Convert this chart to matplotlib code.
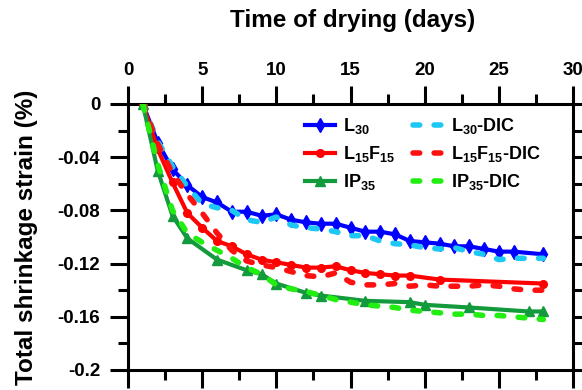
import matplotlib
matplotlib.use("Agg")
import matplotlib.pyplot as plt
from matplotlib.ticker import MultipleLocator

plt.rcParams['font.family'] = ['Liberation Sans', 'DejaVu Sans']
plt.rcParams['font.weight'] = 'bold'
plt.rcParams['mathtext.fontset'] = 'custom'
plt.rcParams['mathtext.rm'] = 'Liberation Sans:bold'
plt.rcParams['mathtext.it'] = 'Liberation Sans:bold'
plt.rcParams['mathtext.bf'] = 'Liberation Sans:bold'
plt.rcParams['mathtext.default'] = 'rm'

# ---- data ----
l30_days = [1, 2, 3, 4, 5, 6, 7, 8, 9, 10, 11, 12, 13, 14, 15, 16, 17, 18, 19, 20, 21, 22, 23, 24, 25, 26, 28]
l30_vals = [0, -0.029, -0.049, -0.061, -0.070, -0.074, -0.081, -0.081, -0.084, -0.083, -0.087, -0.089,
            -0.090, -0.090, -0.093, -0.096, -0.096, -0.098, -0.103, -0.104, -0.105, -0.107, -0.107,
            -0.109, -0.111, -0.111, -0.113]

l15_days = [1, 2, 3, 4, 5, 6, 7, 8, 9, 10, 11, 12, 13, 14, 15, 16, 17, 18, 19, 21, 28]
l15_vals = [0, -0.034, -0.059, -0.082, -0.093, -0.103, -0.107, -0.113, -0.117, -0.119, -0.121, -0.123,
            -0.123, -0.122, -0.125, -0.127, -0.128, -0.129, -0.129, -0.132, -0.135]

ip35_days = [1, 2, 3, 4, 6, 8, 9, 10, 12, 13, 16, 19, 20, 23, 27, 28]
ip35_vals = [0, -0.050, -0.084, -0.101, -0.117, -0.125, -0.128, -0.135, -0.142, -0.144, -0.148,
             -0.149, -0.151, -0.153, -0.156, -0.156]

dic_days = list(range(1, 29))
l30_dic = [0, -0.028, -0.047, -0.062, -0.075, -0.078, -0.080, -0.087, -0.089, -0.085, -0.091, -0.093,
           -0.094, -0.096, -0.099, -0.099, -0.103, -0.105, -0.106, -0.108, -0.109, -0.108, -0.111,
           -0.113, -0.117, -0.116, -0.116, -0.116]
l15_dic = [0, -0.030, -0.052, -0.068, -0.082, -0.097, -0.110, -0.118, -0.121, -0.123, -0.126, -0.129,
           -0.130, -0.127, -0.134, -0.136, -0.136, -0.135, -0.137, -0.136, -0.137, -0.137, -0.137,
           -0.136, -0.137, -0.139, -0.140, -0.140]
ip35_dic = [0, -0.045, -0.080, -0.097, -0.104, -0.110, -0.116, -0.123, -0.128, -0.136, -0.139, -0.141,
            -0.144, -0.147, -0.149, -0.151, -0.152, -0.153, -0.155, -0.156, -0.157, -0.158, -0.158,
            -0.159, -0.159, -0.160, -0.161, -0.162]

ytick_vals = [0, -0.04, -0.08, -0.12, -0.16, -0.2]
ytick_labels = ['0', '-0.04', '-0.08', '-0.12', '-0.16', '-0.2']
xtick_vals = [0, 5, 10, 15, 20, 25, 30]

# ---- figure ----
W, H = 582, 390
fig = plt.figure(figsize=(W/100, H/100), dpi=100)
x0, x1, ytop, ybot = 128, 573, 104, 370
ax = fig.add_axes([x0/W, 1-ybot/H, (x1-x0)/W, (ybot-ytop)/H])

lw = 3.0
h1, = ax.plot(l30_days, l30_vals, color='#0000FF', lw=lw, marker='d', ms=7, label=r'L$_{30}$', zorder=3)
h2, = ax.plot(l15_days, l15_vals, color='#FF0000', lw=lw, marker='o', ms=5.5, label=r'L$_{15}$F$_{15}$', zorder=3)
h3, = ax.plot(ip35_days, ip35_vals, color='#129A3C', lw=lw, marker='^', ms=7, label=r'IP$_{35}$', zorder=3)

dash = (0, (1.2, 2.6))
h4, = ax.plot(dic_days, l30_dic, color='#1EC8F5', lw=4, ls=dash, dash_capstyle='round', label=r'L$_{30}$-DIC', zorder=4)
h5, = ax.plot(dic_days, l15_dic, color='#FF1010', lw=4, ls=dash, dash_capstyle='round', label=r'L$_{15}$F$_{15}$-DIC', zorder=4)
h6, = ax.plot(dic_days, ip35_dic, color='#22EE11', lw=4, ls=dash, dash_capstyle='round', label=r'IP$_{35}$-DIC', zorder=4)

ax.set_xlim(0, 30)
ax.set_ylim(-0.2, 0)
ax.xaxis.tick_top()
ax.xaxis.set_label_position('top')
ax.set_xticks(xtick_vals)
ax.xaxis.set_minor_locator(MultipleLocator(2.5))
ax.set_yticks(ytick_vals)
ax.set_yticklabels(ytick_labels)
ax.yaxis.set_minor_locator(MultipleLocator(0.02))

ax.tick_params(axis='both', which='major', direction='out', length=13, width=2.2, labelsize=13.5)
ax.tick_params(axis='y', which='major', pad=7)
ax.tick_params(axis='x', which='major', pad=5)
ax.tick_params(axis='both', which='minor', direction='out', length=7, width=2.2)
ax.tick_params(axis='x', which='both', top=True, bottom=True, labeltop=True, labelbottom=False)
ax.tick_params(axis='y', which='both', left=True, right=True, labelleft=True, labelright=False)
for lab in ax.get_xticklabels() + ax.get_yticklabels():
    lab.set_fontweight('bold')
for sp in ax.spines.values():
    sp.set_linewidth(2.2)

ax.set_xlabel('Time of drying (days)', fontsize=17.5, fontweight='bold')
ax.xaxis.set_label_coords(0.505, 1.0 + (ytop-21)/(ybot-ytop))
ax.xaxis.label.set_va('center')
ax.set_ylabel('Total shrinkage strain (%)', fontsize=17.5, fontweight='bold')
ax.yaxis.set_label_coords(-(x0-27)/(x1-x0), 0.5)
ax.yaxis.label.set_va('center')

def px_to_axes(px, py):
    return ((px-x0)/(x1-x0), 1-(py-ytop)/(ybot-ytop))

common = dict(ncol=1, loc='upper left', frameon=False, fontsize=13, handlelength=1.65,
              handletextpad=0.45, labelspacing=0.45, borderaxespad=0, borderpad=0)
leg1 = ax.legend(handles=[h1, h2, h3], bbox_to_anchor=px_to_axes(305, 116), **common)
ax.add_artist(leg1)
leg2 = ax.legend(handles=[h4, h5, h6], bbox_to_anchor=px_to_axes(413, 116), **common)
for lg in (leg1, leg2):
    for t in lg.get_texts():
        t.set_fontweight('bold')

fig.savefig('out.png', dpi=100)
